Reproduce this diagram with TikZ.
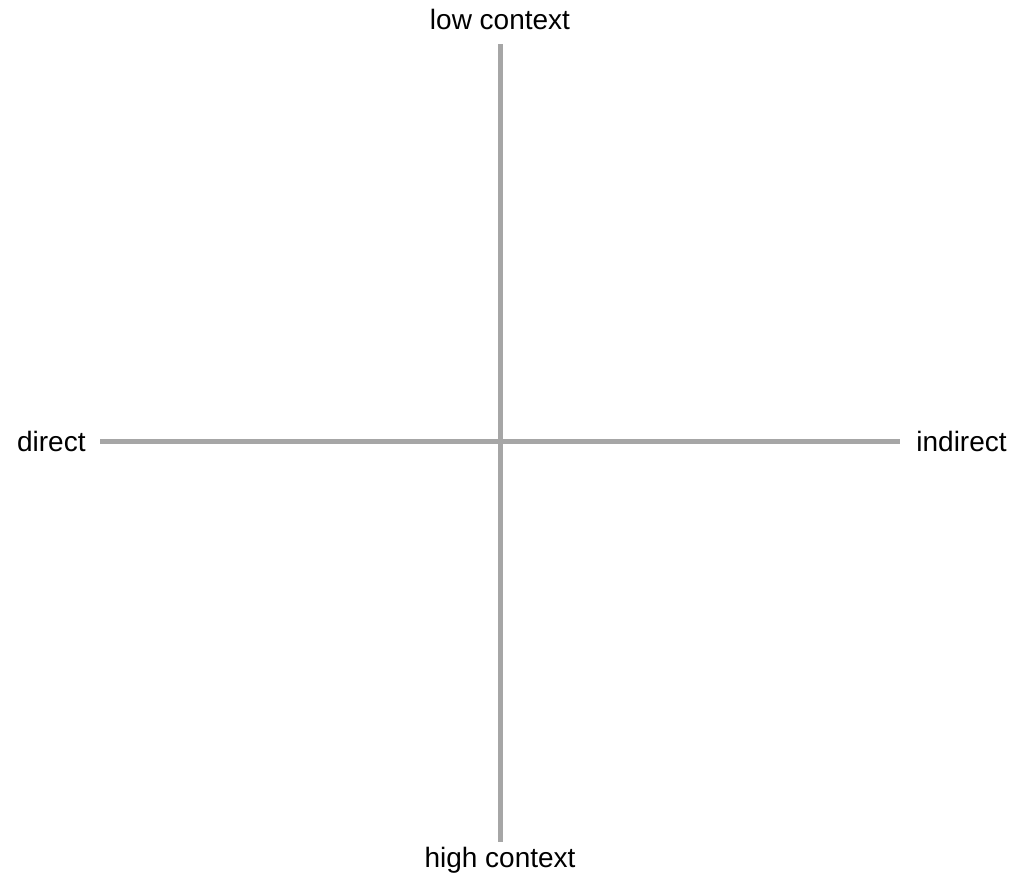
\documentclass[tikz,border=0pt]{standalone}
\usepackage{fontspec}
\setmainfont{Liberation Sans}
\usepackage{xcolor}
\usepackage{tikz}
\usetikzlibrary{positioning,calc}
\definecolor{axisgray}{RGB}{166,166,166}

\begin{document}
\begin{tikzpicture}[
    x=0.5pt, y=-0.5pt,
    axis/.style={draw=axisgray, line width=2.5pt},
    lbl/.style={inner sep=0pt, font=\fontsize{14}{17}\selectfont},
]
    \useasboundingbox (0,0) rectangle (1012,878);

    % Axis end points
    \coordinate (top) at (500,44);
    \coordinate (bottom) at (500,842);
    \coordinate (left) at (100,441);
    \coordinate (right) at (900,441);

    % Axes
    \draw[axis] (top) -- (bottom);
    \draw[axis] (left) -- (right);

    % Axis labels
    \node[lbl, anchor=base] (low) at (500,29) {low context};
    \node[lbl, anchor=base] (high) at (500,867) {high context};
    \node[lbl, anchor=base east] (direct) at (86,451) {direct};
    \node[lbl, anchor=base west] (indirect) at (916,451) {indirect};
\end{tikzpicture}
\end{document}
